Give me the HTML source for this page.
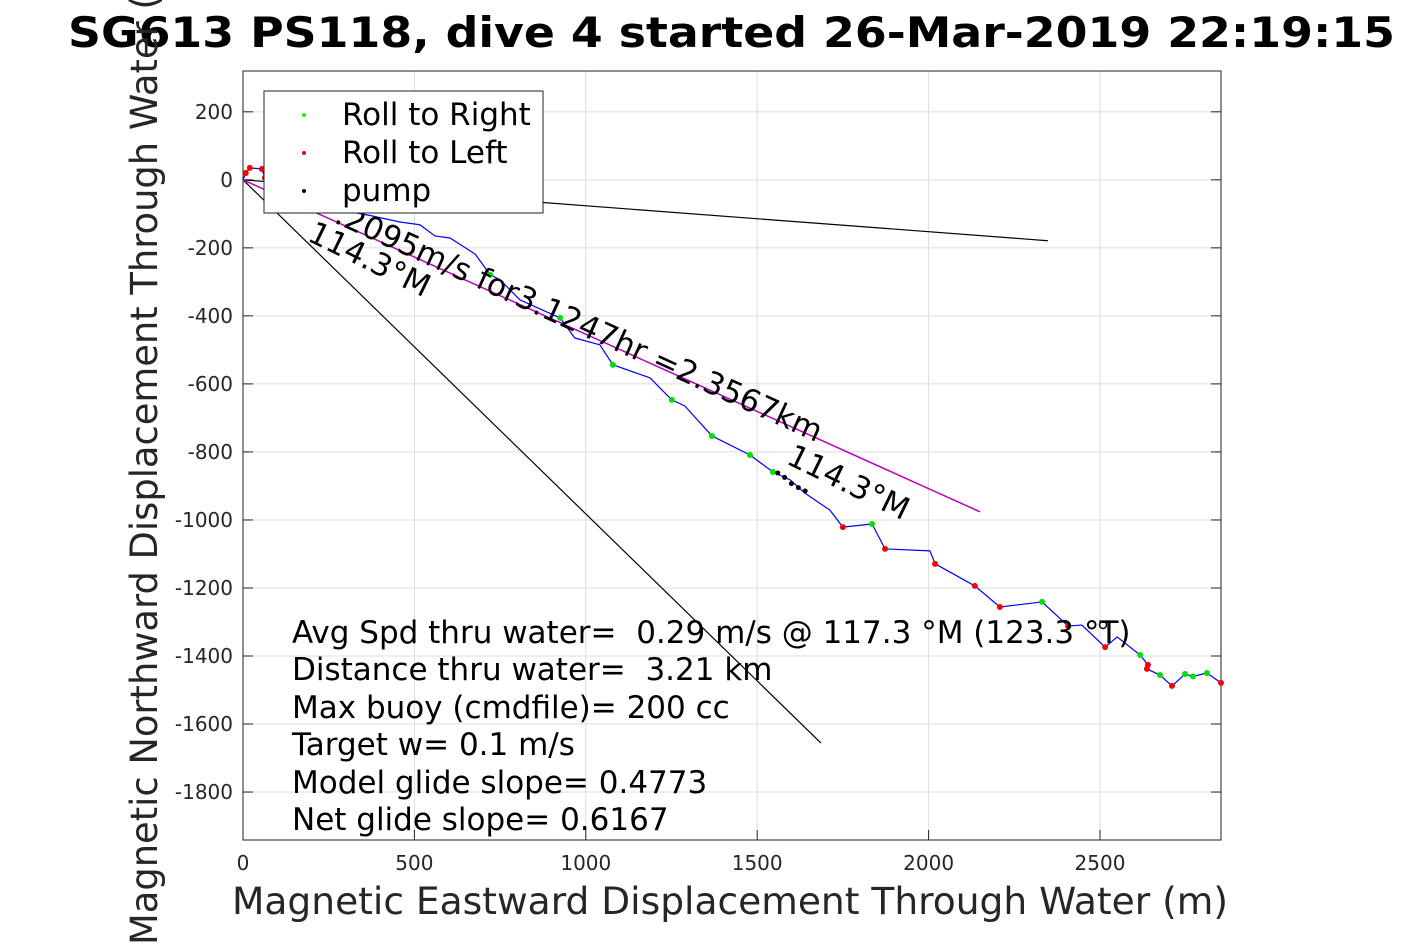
<!DOCTYPE html>
<html><head><meta charset="utf-8"><style>
body{margin:0;background:#fff;}
svg{display:block;font-family:"DejaVu Sans","Liberation Sans",sans-serif;}
</style></head><body>
<svg id="chart" width="1417" height="945" viewBox="0 0 1417 945">
<rect x="0" y="0" width="1417" height="945" fill="#fff"/>
<g id="grid"></g>
<rect x="243" y="71" width="978" height="769" fill="none" stroke="#222" stroke-width="1"/>
<g id="ticks"></g>
<g id="marks"></g>
<text x="68" y="47" font-size="42" font-weight="bold" textLength="1327" lengthAdjust="spacingAndGlyphs">SG613 PS118, dive 4 started 26-Mar-2019 22:19:15</text>
<text x="232" y="914" font-size="37" fill="#262626" textLength="996" lengthAdjust="spacingAndGlyphs">Magnetic Eastward Displacement Through Water (m)</text>
<text transform="translate(157,945) rotate(-90)" font-size="37" fill="#262626" textLength="1000" lengthAdjust="spacingAndGlyphs">Magnetic Northward Displacement Through Water (m)</text>
<g font-size="31">
<text x="292" y="643" xml:space="preserve">Avg Spd thru water=  0.29 m/s @ 117.3 °M (123.3 °T)</text>
<text x="292" y="680" xml:space="preserve">Distance thru water=  3.21 km</text>
<text x="292" y="718">Max buoy (cmdfile)= 200 cc</text>
<text x="292" y="755">Target w= 0.1 m/s</text>
<text x="292" y="793">Model glide slope= 0.4773</text>
<text x="292" y="830">Net glide slope= 0.6167</text>
</g>
<g id="legend">
<rect x="264" y="91" width="279" height="122" fill="#fff" stroke="#222"/>
<circle cx="304" cy="115" r="2" fill="#0f0"/>
<text x="342" y="125" font-size="31">Roll to Right</text>
<circle cx="304" cy="153" r="2" fill="#f00"/>
<text x="342" y="163" font-size="31">Roll to Left</text>
<circle cx="304" cy="191" r="2" fill="#000"/>
<text x="342" y="201" font-size="31">pump</text>
</g>
</svg>
<script>
const xTicks=[0,500,1000,1500,2000,2500];
const yTicks=[200,0,-200,-400,-600,-800,-1000,-1200,-1400,-1600,-1800];
const trackX=[0,8,20,55,64,137,283,376,458,516,560,604,677,721,750,808,925,968,1041,1079,1187,1251,1289,1368,1479,1546,1596,1639,1712,1750,1835,1873,2004,2019,2135,2208,2331,2407,2447,2515,2550,2617,2640,2637,2675,2710,2748,2771,2812,2853];
const trackY=[0,20,35,32,6,-44,-88,-106,-124,-132,-165,-171,-218,-279,-294,-353,-406,-465,-485,-544,-582,-647,-665,-753,-809,-859,-882,-921,-971,-1021,-1012,-1085,-1091,-1129,-1194,-1256,-1241,-1312,-1309,-1374,-1344,-1397,-1426,-1438,-1456,-1488,-1453,-1460,-1450,-1479];
const rightIdx=[13,16,19,21,23,24,25,30,36,41,44,46,47,48];
const leftIdx=[1,2,3,4,29,31,33,34,35,37,39,42,43,45,49];
const pumpX=[1560,1580,1600,1620,1640];
const pumpY=[-862,-875,-893,-905,-915];
const headingEnd=[[2348,-179],[1686,-1656]];
const speedEnd=[2150,-976];
const X0=243,X1=1221,Y0=840,Y1=71,xmin=0,xmax=2853,ymin=-1941,ymax=320;
const sx=v=>X0+(v-xmin)/(xmax-xmin)*(X1-X0);
const sy=v=>Y0-(v-ymin)/(ymax-ymin)*(Y0-Y1);
const NS="http://www.w3.org/2000/svg";
function mk(tag,attrs,parent){const e=document.createElementNS(NS,tag);for(const k in attrs)e.setAttribute(k,attrs[k]);parent.appendChild(e);return e;}
const grid=document.getElementById('grid'),ticks=document.getElementById('ticks'),marks=document.getElementById('marks');
xTicks.forEach(t=>{const x=sx(t);
 let g=mk('line',{x1:x,x2:x,y1:Y1,y2:Y0,stroke:'#dcdcdc','stroke-width':1},grid);
 
 
 let k=mk('line',{x1:x,x2:x,y1:Y0,y2:Y0-10,stroke:'#222'},ticks);
 
 
 let l=mk('text',{x:x,y:870,'font-size':20,'text-anchor':'middle',fill:'#262626'},ticks);l.textContent=t;
 
 
});
yTicks.forEach(t=>{const y=sy(t);
 let g=mk('line',{x1:X0,x2:X1,y1:y,y2:y,stroke:'#dcdcdc','stroke-width':1},grid);
 
 
 let k=mk('line',{x1:X0,x2:X0+10,y1:y,y2:y,stroke:'#222'},ticks);
 
 
 let k2=mk('line',{x1:X1,x2:X1-10,y1:y,y2:y,stroke:'#222'},ticks);
 
 
 let l=mk('text',{x:233,y:y+7,'font-size':20,'text-anchor':'end',fill:'#262626'},ticks);l.textContent=t;
 
 
});
headingEnd.forEach(p=>{let l=mk('line',{x1:sx(0),y1:sy(0),x2:sx(p[0]),y2:sy(p[1]),stroke:'#000','stroke-width':1.2},marks);
 
 });
let sp=mk('line',{x1:sx(0),y1:sy(0),x2:sx(speedEnd[0]),y2:sy(speedEnd[1]),stroke:'#c000c0','stroke-width':1.5},marks);


let d='';trackX.forEach((v,i)=>{d+=(i?'L':'M')+sx(v)+','+sy(trackY[i]);});
let tr=mk('path',{d:d,fill:'none',stroke:'#0000ff','stroke-width':1.2,'stroke-linejoin':'round'},marks);


rightIdx.forEach(i=>{let c=mk('circle',{cx:sx(trackX[i]),cy:sy(trackY[i]),r:3,fill:'#00e000'},marks);
 
 });
leftIdx.forEach(i=>{let c=mk('circle',{cx:sx(trackX[i]),cy:sy(trackY[i]),r:3,fill:'#ff0000'},marks);
 
 });
pumpX.forEach((v,i)=>{let c=mk('circle',{cx:sx(v),cy:sy(pumpY[i]),r:2.5,fill:'#000'},marks);
 
 });
let oc=mk('circle',{cx:1103,cy:625,r:3.5,fill:'none',stroke:'#000','stroke-width':1.5},marks);


const lbls=[['.2095m/s for3.1247hr =2.3567km',333,222,24.5,'speed-label'],['114.3°M',306,240,26,'heading-label-1'],['114.3°M',785,463,26,'heading-label-2']];
lbls.forEach(a=>{let t=mk('text',{transform:`translate(${a[1]},${a[2]}) rotate(${a[3]})`,'font-size':31},marks);t.textContent=a[0];
 
 });
const svg=document.getElementById('chart');svg.appendChild(document.getElementById('legend'));
</script>
</body></html>
